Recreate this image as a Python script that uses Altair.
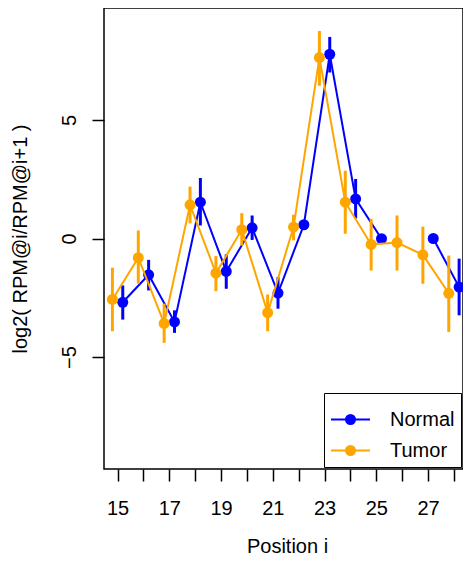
import altair as alt
import pandas as pd

positions = list(range(15, 29))
groups = ["Normal", "Tumor"]
colors = ["#0000FF", "#FFA500"]

normal_val = [-2.69, -1.53, -3.52, 1.53, -1.39, 0.45, -2.30, 0.58, 7.77, 1.67, -0.01, None, 0.00, -2.05]
normal_lo = [-3.42, -2.19, -3.98, 0.55, -2.12, -0.06, -2.96, None, 7.00, 0.85, None, None, None, -3.24]
normal_hi = [-1.98, -0.90, -3.03, 2.55, -0.67, 0.97, -1.63, None, 8.50, 2.51, None, None, None, -0.85]

tumor_val = [-2.57, -0.81, -3.58, 1.42, -1.46, 0.37, -3.13, 0.48, 7.63, 1.53, -0.25, -0.17, -0.69, -2.31]
tumor_lo = [-3.91, -1.90, -4.40, 0.64, -2.22, -0.30, -3.91, -0.08, 6.44, 0.20, -1.35, -1.35, -1.91, -3.94]
tumor_hi = [-1.23, 0.34, -2.75, 2.19, -0.74, 1.07, -2.36, 1.00, 8.75, 2.86, 0.83, 0.97, 0.50, -0.72]

x_ticks = positions
y_ticks = [-5, 0, 5]

rows = []
for g, vals, los, his in [("Normal", normal_val, normal_lo, normal_hi),
                          ("Tumor", tumor_val, tumor_lo, tumor_hi)]:
    for p, v, lo, hi in zip(positions, vals, los, his):
        rows.append({"pos": p, "group": g, "val": v, "lo": lo, "hi": hi})
df = pd.DataFrame(rows)

FONT = "Liberation Sans"

xscale = alt.Scale(domain=[14.475, 28.35], nice=False, zero=False)
yscale = alt.Scale(domain=[-9.72, 9.72], nice=False, zero=False)
cscale = alt.Scale(domain=groups, range=colors)

xaxis = alt.Axis(
    title="Position i", values=x_ticks,
    labelExpr="datum.value % 2 == 1 ? datum.label : ''",
    domain=False, grid=False, tickSize=12, tickWidth=1.5, tickColor="black",
    labelFont=FONT, labelFontSize=20, labelColor="black",
    labelBaseline="alphabetic", labelPadding=33, labelFlush=False, labelOverlap=False,
    titleFont=FONT, titleFontSize=20, titleFontWeight="normal", titleColor="black",
    titleBaseline="alphabetic", titleY=83, titleX=183, titleAlign="center",
)
yaxis = alt.Axis(
    title="log2( RPM@i/RPM@i+1 )", values=y_ticks,
    domain=False, grid=False, tickSize=12, tickWidth=1.5, tickColor="black",
    labelFont=FONT, labelFontSize=20, labelColor="black",
    labelAngle=270, labelAlign="center", labelBaseline="alphabetic", labelPadding=17,
    labelFlush=False, labelOverlap=False,
    titleFont=FONT, titleFontSize=20, titleFontWeight="normal", titleColor="black",
    titleAngle=270, titleAlign="center", titleBaseline="alphabetic",
    titleX=-78, titleY=230.5,
)

legend_path = ("M-1,0L1,0M0.23,0A0.23,0.23,0,1,1,-0.23,0A0.23,0.23,0,1,1,0.23,0Z")
legend = alt.Legend(
    title=None, orient="none", legendX=220, legendY=385,
    symbolType=legend_path, symbolSize=1521, symbolStrokeWidth=2, symbolOpacity=1,
    labelFont=FONT, labelFontSize=20, labelColor="black", labelOffset=19,
    padding=6, rowPadding=-14, strokeColor="black", fillColor="white",
)

base = alt.Chart(df).transform_calculate(
    xp="datum.pos + (datum.group == 'Normal' ? 0.2 : -0.2)"
)

layers = []
for g in groups:
    sub = base.transform_filter(alt.datum.group == g)
    rules = sub.mark_rule(strokeWidth=3).encode(
        x=alt.X("xp:Q", scale=xscale, axis=xaxis),
        y=alt.Y("lo:Q", scale=yscale, axis=yaxis),
        y2="hi:Q",
        color=alt.Color("group:N", scale=cscale, legend=legend),
    )
    line = sub.mark_line(strokeWidth=2, invalid="break-paths-filter-domains").encode(
        x=alt.X("xp:Q", scale=xscale, axis=xaxis),
        y=alt.Y("val:Q", scale=yscale, axis=yaxis),
        color=alt.Color("group:N", scale=cscale, legend=legend),
        order="pos:Q",
    )
    pts = sub.mark_point(filled=True, size=121, opacity=1).encode(
        x=alt.X("xp:Q", scale=xscale, axis=xaxis),
        y=alt.Y("val:Q", scale=yscale, axis=yaxis),
        color=alt.Color("group:N", scale=cscale, legend=legend),
    )
    layers += [rules, line, pts]

chart = alt.layer(*layers).properties(
    width=359, height=461,
    background="white",
    autosize=alt.AutoSizeParams(type="none"),
    padding={"left": 96, "top": 0, "right": 0, "bottom": 89},
).configure_view(stroke="black", strokeWidth=1.5)

chart.save("out.html", embed_options={"renderer": "svg", "actions": False})
